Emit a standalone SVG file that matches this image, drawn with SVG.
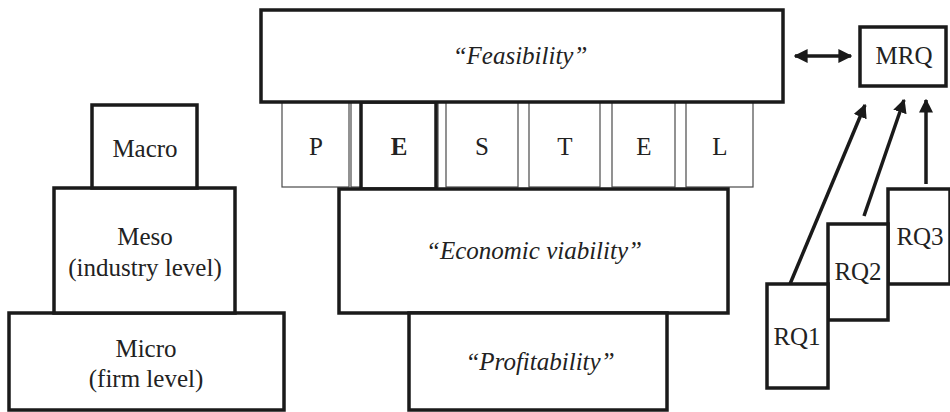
<svg xmlns="http://www.w3.org/2000/svg" width="950" height="412" viewBox="0 0 950 412">
  <defs>
    <style>
      .box { fill: #fff; stroke: #1a1a1a; stroke-width: 3.5; }
      .thin { fill: #fff; stroke: #4a4a4a; stroke-width: 1.2; }
      .t { font-family: "Liberation Serif", "DejaVu Serif", "Times New Roman", serif; font-size: 25px; fill: #222; text-anchor: middle; }
      .i { font-style: italic; }
      .b { font-weight: bold; }
      .conn { stroke: #1a1a1a; stroke-width: 3.5; fill: none; }
    </style>
    <marker id="ah" viewBox="0 0 10 10" refX="9" refY="5" markerWidth="4" markerHeight="4" orient="auto-start-reverse">
      <path d="M0,0 L10,5 L0,10 z" fill="#1a1a1a"/>
    </marker>
  </defs>
  <rect width="950" height="412" fill="#fff"/>

  <!-- Macro / Meso / Micro stack -->
  <g id="micro">
    <rect class="box" x="9" y="313" width="275" height="97"/>
    <text class="t" x="146" y="357">Micro</text>
    <text class="t" x="146" y="387">(firm level)</text>
  </g>
  <g id="meso">
    <rect class="box" x="54" y="188" width="181" height="125"/>
    <text class="t" x="145" y="245">Meso</text>
    <text class="t" x="145" y="276">(industry level)</text>
  </g>
  <g id="macro">
    <rect class="box" x="92" y="105" width="105" height="83"/>
    <text class="t" x="145" y="157">Macro</text>
  </g>

  <!-- PESTEL strip -->
  <g id="pestel">
    <rect class="thin" x="282" y="102" width="67" height="85"/>
    <rect class="thin" x="351" y="102" width="87" height="85"/>
    <rect class="thin" x="446" y="102" width="72" height="85"/>
    <rect class="thin" x="529" y="102" width="71" height="85"/>
    <rect class="thin" x="612" y="102" width="63" height="85"/>
    <rect class="thin" x="686" y="102" width="67" height="85"/>
    <rect class="box" x="361" y="102" width="75" height="87"/>
    <text class="t" x="316" y="155">P</text>
    <text class="t b" x="399" y="155">E</text>
    <text class="t" x="482" y="155">S</text>
    <text class="t" x="565" y="155">T</text>
    <text class="t" x="644" y="155">E</text>
    <text class="t" x="720" y="155">L</text>
  </g>

  <g id="feasibility">
    <rect class="box" x="261" y="10" width="522" height="92"/>
    <text class="t i" x="520" y="64">“Feasibility”</text>
  </g>

  <g id="economic-viability">
    <rect class="box" x="339" y="189" width="389" height="124"/>
    <text class="t i" x="534" y="259">“Economic viability”</text>
  </g>

  <g id="profitability">
    <rect class="box" x="409" y="313" width="258" height="97"/>
    <text class="t i" x="540" y="370">“Profitability”</text>
  </g>

  <!-- Research questions -->
  <g id="mrq">
    <rect class="box" x="860" y="27" width="86" height="59"/>
    <text class="t" x="904" y="64">MRQ</text>
  </g>
  <g id="rq3">
    <rect class="box" x="888" y="189" width="62" height="95"/>
    <text class="t" x="920" y="245">RQ3</text>
  </g>
  <g id="rq2">
    <rect class="box" x="828" y="224" width="60" height="96"/>
    <text class="t" x="858" y="280">RQ2</text>
  </g>
  <g id="rq1">
    <rect class="box" x="767" y="284" width="61" height="104"/>
    <text class="t" x="797" y="345">RQ1</text>
  </g>

  <g id="connectors">
    <line class="conn" x1="795" y1="56" x2="851" y2="56" marker-start="url(#ah)" marker-end="url(#ah)"/>
    <line class="conn" x1="790" y1="284" x2="865" y2="105" marker-end="url(#ah)"/>
    <line class="conn" x1="864" y1="216" x2="904" y2="100" marker-end="url(#ah)"/>
    <line class="conn" x1="926" y1="184" x2="926" y2="100" marker-end="url(#ah)"/>
  </g>
</svg>
